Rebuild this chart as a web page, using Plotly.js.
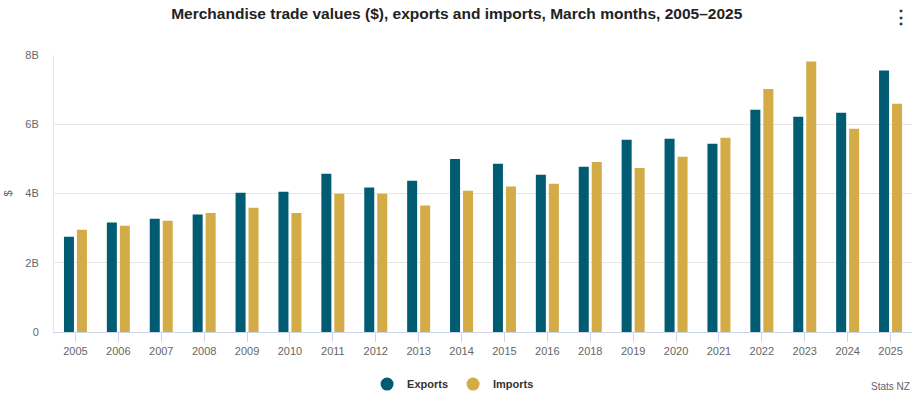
<!DOCTYPE html>
<html>
<head>
<meta charset="utf-8">
<script src="https://cdn.plot.ly/plotly-3.0.1.min.js"></script>
<style>
  html, body { margin: 0; padding: 0; background: #fff; }
  #chart { width: 919px; height: 396px; }
</style>
</head>
<body>
<div id="chart"></div>
<script>
const years = ["2005","2006","2007","2008","2009","2010","2011","2012","2013","2014","2015","2016","2018","2019","2020","2021","2022","2023","2024","2025"];
const exportsB = [2.75,3.16,3.27,3.39,4.02,4.05,4.57,4.17,4.37,5.00,4.86,4.54,4.77,5.55,5.58,5.44,6.42,6.22,6.33,7.55];
const importsB = [2.95,3.07,3.21,3.44,3.59,3.44,3.99,3.99,3.65,4.08,4.20,4.28,4.91,4.74,5.06,5.61,7.02,7.81,5.87,6.59];
const yTickVals = [0,2,4,6,8];
const yTickText = ["0","2B","4B","6B","8B"];

const cExp = "#005c73";
const cImp = "#d3ab47";

const data = [
  {type:"bar", name:"Exports", x:years, y:exportsB, marker:{color:cExp}, showlegend:false, hoverinfo:"x+y"},
  {type:"bar", name:"Imports", x:years, y:importsB, marker:{color:cImp}, showlegend:false, hoverinfo:"x+y"},
  {type:"scatter", mode:"markers", name:"Exports", x:[null], y:[null], marker:{color:cExp, size:13, symbol:"circle"}, showlegend:true},
  {type:"scatter", mode:"markers", name:"Imports", x:[null], y:[null], marker:{color:cImp, size:13, symbol:"circle"}, showlegend:true}
];

const layout = {
  width: 919, height: 396,
  margin: {l:54, r:7, t:55, b:64, autoexpand:false},
  paper_bgcolor:"#fff", plot_bgcolor:"#fff",
  font: {family:"Liberation Sans, Arial, sans-serif", size:11, color:"#666"},
  title: {text:"<b>Merchandise trade values ($), exports and imports, March months, 2005–2025</b>",
          font:{family:"Liberation Sans, Arial, sans-serif", size:15.5, color:"#222"},
          x:0.497, xanchor:"center", xref:"container", yref:"container", y:0.965, yanchor:"middle"},
  barmode:"group", bargap:0.394, bargroupgap:0.23,
  xaxis: {type:"category", showgrid:false, showline:true, linecolor:"#ccd6eb", linewidth:1,
          ticks:"outside", ticklen:9, tickcolor:"#ccd6eb", tickwidth:1,
          tickfont:{size:11, color:"#666"}, zeroline:false, fixedrange:true},
  yaxis: {range:[0,8], tickvals:yTickVals, ticktext:yTickText, showgrid:true, gridcolor:"#e6e6e6",
          showline:true, linecolor:"#e6e6e6", linewidth:1, zeroline:false, ticks:"", ticklabelstandoff:12,
          tickfont:{size:11, color:"#666"},
          title:{text:"$", font:{size:11, color:"#666"}, standoff:10}, fixedrange:true},
  showlegend:true,
  legend: {orientation:"h", xref:"container", x:0.493, xanchor:"center", yref:"container", y:0.03, yanchor:"middle",
           font:{size:11, color:"#333", family:"Liberation Sans, Arial, sans-serif", weight:"bold"},
           itemclick:false, itemdoubleclick:false, itemwidth:30},
  annotations: [
    {text:"Stats NZ", xref:"paper", yref:"paper", x:1.0, y:-0.195, xanchor:"right", yanchor:"middle",
     showarrow:false, font:{size:10, color:"#666"}},
    {text:"<b>⋮</b>", xref:"paper", yref:"paper", x:1.0, y:1.137, xanchor:"right", yanchor:"middle",
     showarrow:false, font:{size:18, color:"#333"}}
  ]
};

Plotly.newPlot("chart", data, layout, {displayModeBar:false});
</script>
</body>
</html>
